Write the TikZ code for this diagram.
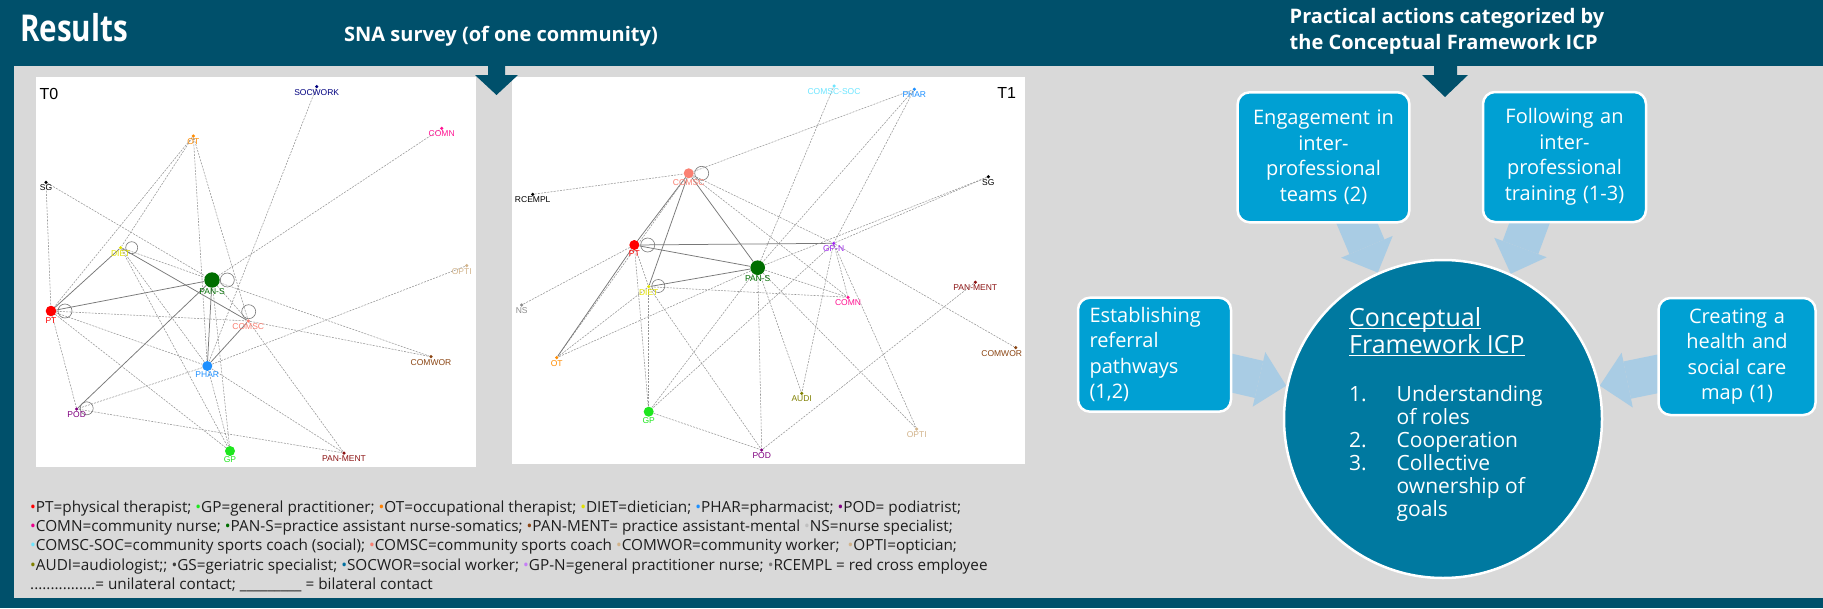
\documentclass[tikz,border=0pt]{standalone}
\usepackage{fontspec}
\setmainfont{Open Sans}
\newfontfamily\plotfont{Liberation Sans}
\newfontfamily\resfont{Open Sans}[FakeStretch=0.8]
\usetikzlibrary{arrows.meta,calc}
\pgfdeclarelayer{bg}
\pgfdeclarelayer{wire}
\pgfsetlayers{bg,wire,main}
\definecolor{hdrteal}{RGB}{0,80,107}
\definecolor{panelgray}{RGB}{217,217,217}
\definecolor{boxblue}{RGB}{0,160,211}
\definecolor{circblue}{RGB}{0,121,160}
\definecolor{flowblue}{RGB}{169,204,228}
\definecolor{edgegray}{RGB}{150,150,150}
\definecolor{edgedark}{RGB}{120,120,120}
\definecolor{legtext}{RGB}{30,30,30}
\definecolor{cpt}{RGB}{255,0,0}
\definecolor{cgp}{RGB}{30,230,30}
\definecolor{cot}{RGB}{255,140,0}
\definecolor{cdiet}{RGB}{225,225,0}
\definecolor{cphar}{RGB}{30,144,255}
\definecolor{cpod}{RGB}{128,0,128}
\definecolor{ccomn}{RGB}{255,20,147}
\definecolor{cpans}{RGB}{0,110,0}
\definecolor{cpanment}{RGB}{140,20,20}
\definecolor{cns}{RGB}{140,140,140}
\definecolor{ccomscsoc}{RGB}{110,230,255}
\definecolor{ccomsc}{RGB}{250,128,114}
\definecolor{ccomwor}{RGB}{139,69,19}
\definecolor{copti}{RGB}{210,180,140}
\definecolor{caudi}{RGB}{128,128,0}
\definecolor{csocwork}{RGB}{0,0,128}
\definecolor{cgpn}{RGB}{160,40,240}
\definecolor{cgs}{RGB}{64,64,64}
\definecolor{csocwor}{RGB}{0,112,160}
\newcommand{\legdot}[1]{\textcolor{#1}{\textbullet}}
\newcommand{\undl}[1]{\setbox0\hbox{#1}\rlap{\rule[-2.2pt]{\wd0}{1.2pt}}\box0}
\tikzset{
  actor/.style={circle, inner sep=0pt, minimum size=3.5pt},
  lab/.style={font=\plotfont\fontsize{8.5}{9}\selectfont, inner sep=0.5pt},
  tag/.style={font=\plotfont\fontsize{16}{16}\selectfont, inner sep=0pt},
  uni/.style={edgegray, line width=0.55pt, dash pattern=on 2pt off 1.2pt},
  bi/.style={edgedark, line width=0.75pt},
  selfloop/.style={edgedark, line width=0.6pt},
  hdr/.style={text=white, inner sep=0pt, font=\bfseries\fontsize{20}{25.7}\selectfont},
  actbox/.style={rectangle, rounded corners=12pt, fill=boxblue, draw=white, line width=2.5pt,
    text=white, align=center, inner sep=0pt, font=\fontsize{20}{25.5}\selectfont},
  icpdisk/.style={circle, fill=circblue, draw=white, line width=2.5pt, minimum size=318pt, inner sep=0pt},
  flow/.style={flowblue, line width=38pt, -{Triangle[width=56pt,length=28pt,line width=0pt]}},
}
\begin{document}
\begin{tikzpicture}[x=1pt,y=-1pt]
  \useasboundingbox (0,0) rectangle (1823,608);
  \begin{pgfonlayer}{bg}
    \fill [hdrteal] (0,0) rectangle (1823,608);
    \fill [panelgray] (14,66) rectangle (1823,598);
    \fill [white] (36,77) rectangle (476,467);
    \fill [white] (512,77) rectangle (1025,464);
    \fill [hdrteal] (488,60) -- (505,60) -- (505,75) -- (518,75) -- (496.5,95) -- (475,75) -- (488,75) -- cycle;
    \fill [hdrteal] (1434,60) -- (1457,60) -- (1457,75) -- (1468,75) -- (1445,97) -- (1422,75) -- (1434,75) -- cycle;
  \end{pgfonlayer}
  % titles
  \node (results) [hdr, anchor=base west, font=\resfont\bfseries\fontsize{37}{40}\selectfont] at (20,41.7) {Results};
  \node (snatitle) [hdr, anchor=base west] at (344,41.7) {SNA survey (of one community)};
  \node (icphead) [hdr, anchor=north west, align=left] at (1289.5,8.5) {Practical actions categorized by\\the Conceptual Framework ICP};
  % T0 network
  \node (t0tag) [tag] at (49,94) {T0};
  \node (t0socwork) [actor, fill=csocwork, label={[lab,text=csocwork]below:SOCWORK}] at (316.7,86.7) {};
  \node (t0comn) [actor, fill=ccomn, label={[lab,text=ccomn]below:COMN}] at (441.7,128.3) {};
  \node (t0ot) [actor, fill=cot, label={[lab,text=cot]below:OT}] at (193.3,136) {};
  \node (t0sg) [actor, fill=black, label={[lab]below:SG}] at (46,182.3) {};
  \node (t0diet) [actor, fill=cdiet, label={[lab,text=cdiet]below:DIET}] at (120.7,247.7) {};
  \node (t0opti) [actor, fill=copti, label={[lab,text=copti,xshift=-5pt]below:OPTI}] at (466.7,265.7) {};
  \node (t0pans) [actor, fill=cpans, minimum size=15.4pt, label={[lab,text=cpans]below:PAN-S}] at (212,280) {};
  \node (t0pt) [actor, fill=cpt, minimum size=10.6pt, label={[lab,text=cpt]below:PT}] at (51,311) {};
  \node (t0comsc) [actor, fill=ccomsc, label={[lab,text=ccomsc]below:COMSC}] at (248.3,321) {};
  \node (t0comwor) [actor, fill=ccomwor, label={[lab,text=ccomwor]below:COMWOR}] at (431,356.7) {};
  \node (t0phar) [actor, fill=cphar, minimum size=10pt, label={[lab,text=cphar]below:PHAR}] at (207.3,366) {};
  \node (t0pod) [actor, fill=cpod, label={[lab,text=cpod]below:POD}] at (76.7,409) {};
  \node (t0gp) [actor, fill=cgp, minimum size=10pt, label distance=-7pt, label={[lab,text=cgp]below:GP}] at (230,451) {};
  \node (t0panment) [actor, fill=cpanment, label distance=-2pt, label={[lab,text=cpanment]below:PAN-MENT}] at (344,453) {};
  % T1 network
  \node (t1tag) [tag] at (1006.7,93.3) {T1};
  \node (t1comscsoc) [actor, fill=ccomscsoc, label={[lab,text=ccomscsoc]below:COMSC-SOC}] at (834,86) {};
  \node (t1phar) [actor, fill=cphar, label={[lab,text=cphar]below:PHAR}] at (914.3,89.3) {};
  \node (t1comsc) [actor, fill=ccomsc, minimum size=10pt, label={[lab,text=ccomsc]below:COMSC}] at (688.7,173.3) {};
  \node (t1rcempl) [actor, fill=black, label={[lab]below:RCEMPL}] at (532.7,194.3) {};
  \node (t1sg) [actor, fill=black, label={[lab]below:SG}] at (988.3,176.7) {};
  \node (t1pt) [actor, fill=cpt, minimum size=10pt, label={[lab,text=cpt]below:PT}] at (634.3,245) {};
  \node (t1gpn) [actor, fill=cgpn, label={[lab,text=cgpn]below:GP-N}] at (833.7,243.3) {};
  \node (t1pans) [actor, fill=cpans, minimum size=14.6pt, label={[lab,text=cpans]below:PAN-S}] at (757.7,267.7) {};
  \node (t1diet) [actor, fill=cdiet, label={[lab,text=cdiet]below:DIET}] at (648.7,286.7) {};
  \node (t1panment) [actor, fill=cpanment, label={[lab,text=cpanment]below:PAN-MENT}] at (975.3,282.3) {};
  \node (t1comn) [actor, fill=ccomn, label={[lab,text=ccomn]below:COMN}] at (848,297.3) {};
  \node (t1ns) [actor, fill=cns, label={[lab,text=cns]below:NS}] at (521.7,305) {};
  \node (t1comwor) [actor, fill=ccomwor, label={[lab,text=ccomwor,xshift=-14pt]below:COMWOR}] at (1015.7,347.7) {};
  \node (t1ot) [actor, fill=cot, label={[lab,text=cot]below:OT}] at (556.7,357.7) {};
  \node (t1audi) [actor, fill=caudi, label={[lab,text=caudi]below:AUDI}] at (801.7,393.3) {};
  \node (t1gp) [actor, fill=cgp, minimum size=10pt, label={[lab,text=cgp]below:GP}] at (648.7,411.7) {};
  \node (t1opti) [actor, fill=copti, label={[lab,text=copti]below:OPTI}] at (916.7,429) {};
  \node (t1pod) [actor, fill=cpod, label distance=-2pt, label={[lab,text=cpod]below:POD}] at (761.7,450) {};
  \begin{pgfonlayer}{wire}
    % T0 contacts
    \draw [uni] (t0sg) -- (t0pt);
    \draw [uni] (t0sg) -- (t0pans);
    \draw [uni] (t0ot) -- (t0pt);
    \draw [uni] (t0ot) -- (t0diet);
    \draw [uni] (t0ot) -- (t0phar);
    \draw [uni] (t0ot) -- (t0comsc);
    \draw [bi] (t0diet) -- (t0pt);
    \draw [uni] (t0diet) -- (t0pans);
    \draw [bi] (t0diet) -- (t0comsc);
    \draw [uni] (t0diet) -- (t0phar);
    \draw [uni] (t0diet) -- (t0gp);
    \draw [bi] (t0pans) -- (t0pt);
    \draw [uni] (t0pans) -- (t0comn);
    \draw [bi] (t0pans) -- (t0phar);
    \draw [bi] (t0pans) -- (t0pod);
    \draw [uni] (t0pans) -- (t0gp);
    \draw [uni] (t0pans) -- (t0comsc);
    \draw [uni] (t0pans) -- (t0comwor);
    \draw [uni] (t0pt) -- (t0phar);
    \draw [uni] (t0pt) -- (t0gp);
    \draw [uni] (t0pt) -- (t0pod);
    \draw [uni] (t0pt) -- (t0comsc);
    \draw [uni] (t0comsc) -- (t0comwor);
    \draw [bi] (t0phar) -- (t0comsc);
    \draw [uni] (t0phar) -- (t0opti);
    \draw [uni] (t0phar) -- (t0panment);
    \draw [uni] (t0phar) -- (t0pod);
    \draw [uni] (t0phar) -- (t0gp);
    \draw [uni] (t0pod) -- (t0panment);
    \draw [uni] (t0comsc) -- (t0panment);
    \draw [uni] (t0socwork) -- (t0phar);
    \draw [selfloop] (t0diet.center) ++(11,0) circle [radius=6];
    \draw [selfloop] (t0pans.center) ++(15.3,0) circle [radius=7];
    \draw [selfloop] (t0pt.center) ++(14,0) circle [radius=7];
    \draw [selfloop] (t0comsc.center) ++(0.4,-9.3) circle [radius=7];
    \draw [selfloop] (t0pod.center) ++(10,-0.7) circle [radius=6.5];
    % T1 contacts
    \draw [uni] (t1rcempl) -- (t1comsc);
    \draw [uni] (t1comsc) -- (t1phar);
    \draw [uni] (t1comscsoc) -- (t1pans);
    \draw [uni] (t1phar) -- (t1pans);
    \draw [uni] (t1phar) -- (t1gpn);
    \draw [bi] (t1comsc) -- (t1pt);
    \draw [bi] (t1comsc) -- (t1diet);
    \draw [uni] (t1comsc) -- (t1ot);
    \draw [bi] (t1comsc) -- (t1pans);
    \draw [uni] (t1comsc) -- (t1comn);
    \draw [uni] (t1comsc) -- (t1gpn);
    \draw [bi] (t1pt) -- (t1gpn);
    \draw [bi] (t1pt) -- (t1pans);
    \draw [uni] (t1pt) -- (t1ns);
    \draw [bi] (t1pt) -- (t1ot);
    \draw [uni] (t1pt) -- (t1gp);
    \draw [uni] (t1pt) -- (t1diet);
    \draw [uni] (t1diet) -- (t1pod);
    \draw [bi] (t1diet) -- (t1pans);
    \draw [uni] (t1diet) -- (t1comn);
    \draw [uni] (t1diet) -- (t1gp);
    \draw [uni] (t1diet) -- (t1ot);
    \draw [uni] (t1pans) -- (t1sg);
    \draw [uni] (t1gpn) -- (t1sg);
    \draw [uni] (t1pans) -- (t1ot);
    \draw [uni] (t1pans) -- (t1gp);
    \draw [uni] (t1pans) -- (t1pod);
    \draw [uni] (t1pans) -- (t1audi);
    \draw [uni] (t1pans) -- (t1opti);
    \draw [uni] (t1pans) -- (t1comn);
    \draw [uni] (t1gpn) -- (t1gp);
    \draw [uni] (t1gpn) -- (t1audi);
    \draw [uni] (t1gpn) -- (t1comn);
    \draw [uni] (t1gpn) -- (t1opti);
    \draw [uni] (t1gpn) -- (t1comwor);
    \draw [uni] (t1gp) -- (t1pod);
    \draw [uni] (t1pod) -- (t1panment);
    \draw [selfloop] (t1comsc.center) ++(13,0) circle [radius=7];
    \draw [selfloop] (t1pt.center) ++(13.4,0) circle [radius=7];
    \draw [selfloop] (t1diet.center) ++(9.6,-0.7) circle [radius=6.5];
  \end{pgfonlayer}
  % legend
  \node (legend) [anchor=north west, align=left, inner sep=0pt, text=legtext, font=\fontsize{15.3}{19.3}\selectfont] at (30,500.4)
    {\legdot{cpt}PT=physical therapist; \legdot{cgp}GP=general practitioner; \legdot{orange}OT=occupational therapist; \legdot{cdiet}DIET=dietician; \legdot{cphar}PHAR=pharmacist; \legdot{cpod}POD= podiatrist;\\
     \legdot{magenta}COMN=community nurse; \legdot{cpans}PAN-S=practice assistant nurse-somatics; \legdot{ccomwor}PAN-MENT= practice assistant-mental \legdot{lightgray}NS=nurse specialist;\\
     \legdot{ccomscsoc}COMSC-SOC=community sports coach (social); \legdot{ccomsc}COMSC=community sports coach \legdot{copti}COMWOR=community worker; \ \legdot{copti}OPTI=optician;\\
     \legdot{caudi}AUDI=audiologist;; \legdot{cgs}GS=geriatric specialist; \legdot{csocwor}SOCWOR=social worker; \legdot{cgpn!60}GP-N=general practitioner nurse; \legdot{gray}RCEMPL = red cross employee\\
     ................= unilateral contact; \_\_\_\_\_\_\_\_\_ = bilateral contact};
  % conceptual framework
  \node (engage) [actbox, minimum width=171.8pt, minimum height=130pt, text width=160pt] at (1323.5,157.3) {Engagement in\\inter-\\professional\\teams (2)};
  \node (follow) [actbox, minimum width=163pt, minimum height=130pt, text width=155pt] at (1564.5,157) {Following an\\inter-\\professional\\training (1-3)};
  \node (referral) [actbox, minimum width=153pt, minimum height=114pt, text width=130pt, align=left] at (1154.5,354.7) {Establishing\\referral\\pathways\\(1,2)};
  \node (mapbox) [actbox, minimum width=157pt, minimum height=117pt, text width=145pt] at (1737,356.5) {Creating a\\health and\\social care\\map (1)};
  \node (icp) [icpdisk] at (1443,419) {};
  \node (icptitle) [anchor=north west, align=left, text=white, inner sep=0pt, font=\fontsize{25}{27}\selectfont] at (1349,307.7) {\undl{Conceptual}\\\undl{Framework ICP}};
  \node (icplist) [anchor=north west, align=left, text=white, inner sep=0pt, font=\fontsize{21}{23}\selectfont] at (1349,385.7)
    {\makebox[47.5pt][l]{1.}Understanding\\
     \hspace*{47.5pt}of roles\\
     \makebox[47.5pt][l]{2.}Cooperation\\
     \makebox[47.5pt][l]{3.}Collective\\
     \hspace*{47.5pt}ownership of\\
     \hspace*{47.5pt}goals};
  \begin{pgfonlayer}{wire}
    \draw [flow] ($(engage.south)+(28.5,-12)$) -- (icp.114);
    \draw [flow] ($(follow.south)+(-30.6,-12)$) -- (icp.65);
    \draw [flow] ($(referral.east)+(-11,16)$) -- (icp.168);
    \draw [flow] ($(mapbox.west)+(12,15)$) -- (icp.12);
  \end{pgfonlayer}
\end{tikzpicture}
\end{document}
